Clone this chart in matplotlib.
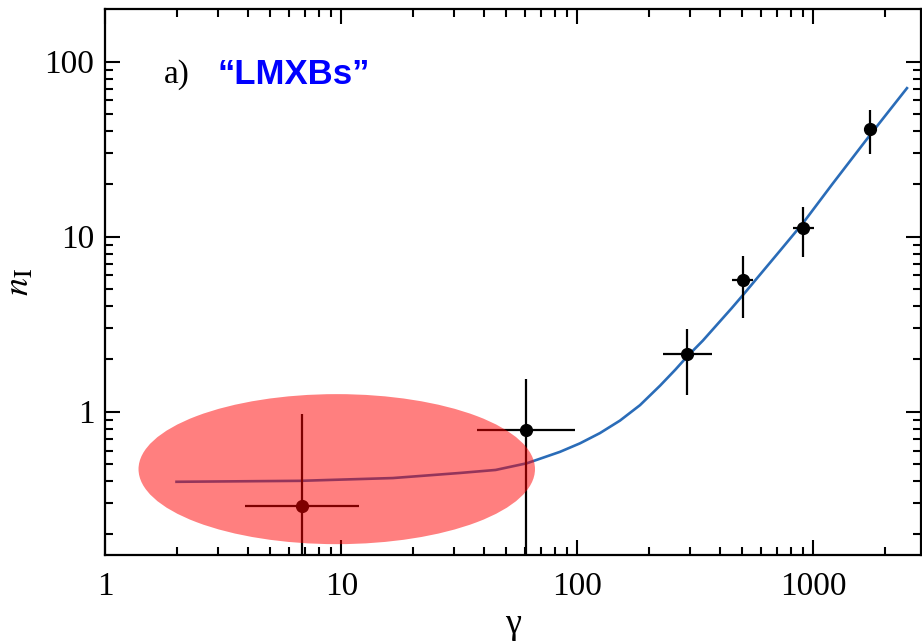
import numpy as np
import matplotlib
matplotlib.use('Agg')
import matplotlib.pyplot as plt
from matplotlib.patches import Ellipse
from matplotlib.ticker import FixedLocator, FixedFormatter, NullFormatter, LogLocator

plt.rcParams['font.family'] = ['Liberation Serif', 'DejaVu Serif']
plt.rcParams['mathtext.fontset'] = 'stix'

# data points (gamma, n_I) with asymmetric error ranges
gamma = [6.78, 60.5, 290, 504, 905, 1735]
gamma_lo = [3.90, 37.4, 230, 453, 821, 1690]
gamma_hi = [11.9, 97.5, 371, 556, 1005, 1780]
n_I = [0.289, 0.786, 2.14, 5.66, 11.2, 41.2]
n_lo = [0.05, 0.05, 1.246, 3.44, 7.69, 29.6]
n_hi = [0.966, 1.54, 2.97, 7.79, 14.8, 53.0]

# model curve
curve_gamma = [2.0, 6.67, 16.5, 31.8, 45, 61.1, 84.3, 102.5, 124.5, 151.4, 184, 224,
               260, 290, 340, 390, 450, 504, 721, 905, 1200, 1735, 2490]
curve_n = [0.398, 0.403, 0.418, 0.447, 0.465, 0.508, 0.59, 0.66, 0.755, 0.89, 1.09, 1.41,
           1.74, 2.05, 2.55, 3.14, 3.9, 4.66, 8.3, 12.0, 19.9, 38.0, 70.5]

# shaded ellipse: centre and full widths in decades
ell_center = (9.55, 0.47)
ell_span_dex = (1.68, 0.857)

xticks = [1, 10, 100, 1000]
xticklabels = ['1', '10', '100', '1000']
yticks = [1, 10, 100]
yticklabels = ['1', '10', '100']

fig = plt.figure(figsize=(9.22, 6.43), dpi=100)
ax = fig.add_axes([0.1144, 0.1369, 0.8843, 0.8487])
ax.set_xscale('log')
ax.set_yscale('log')
ax.set_xlim(1, 2850)
ax.set_ylim(0.152, 199)

ax.plot(curve_gamma, curve_n, color='#2a6cb8', lw=1.9, zorder=2)

g = np.array(gamma)
n = np.array(n_I)
xerr = [g - np.array(gamma_lo), np.array(gamma_hi) - g]
yerr = [n - np.array(n_lo), np.array(n_hi) - n]
ax.errorbar(g, n, xerr=xerr, yerr=yerr, fmt='o', color='black', ms=8.5,
            elinewidth=1.6, capsize=0, zorder=3)

ell = Ellipse((np.log10(ell_center[0]), np.log10(ell_center[1])),
              ell_span_dex[0], ell_span_dex[1],
              transform=ax.transLimits + ax.transAxes,
              facecolor='red', edgecolor='none', alpha=0.5, zorder=4)
ax.add_patch(ell)

for s in ax.spines.values():
    s.set_linewidth(1.6)

ax.xaxis.set_major_locator(FixedLocator(xticks))
ax.xaxis.set_major_formatter(FixedFormatter(xticklabels))
ax.yaxis.set_major_locator(FixedLocator(yticks))
ax.yaxis.set_major_formatter(FixedFormatter(yticklabels))
ax.xaxis.set_minor_locator(LogLocator(base=10, subs=np.arange(2, 10)))
ax.yaxis.set_minor_locator(LogLocator(base=10, subs=np.arange(2, 10)))
ax.xaxis.set_minor_formatter(NullFormatter())
ax.yaxis.set_minor_formatter(NullFormatter())
ax.tick_params(which='both', direction='in', top=True, right=True, width=1.5, labelsize=24)
ax.tick_params(which='major', length=11)
ax.tick_params(which='minor', length=6)
ax.tick_params(axis='x', pad=12)
ax.tick_params(axis='y', pad=8)

ax.set_xlabel('\u03b3', fontsize=26, labelpad=4)
ax.set_ylabel(r'$n_{\rm I}$', fontsize=26, labelpad=6)

ax.text(0.072, 0.88, 'a)', transform=ax.transAxes, fontsize=24, va='center')
ax.text(0.138, 0.88, '\u201cLMXBs\u201d', transform=ax.transAxes, fontsize=25,
        fontweight='bold', color='#0000ff', family='Liberation Sans', va='center')

fig.savefig('out.png', dpi=100)
